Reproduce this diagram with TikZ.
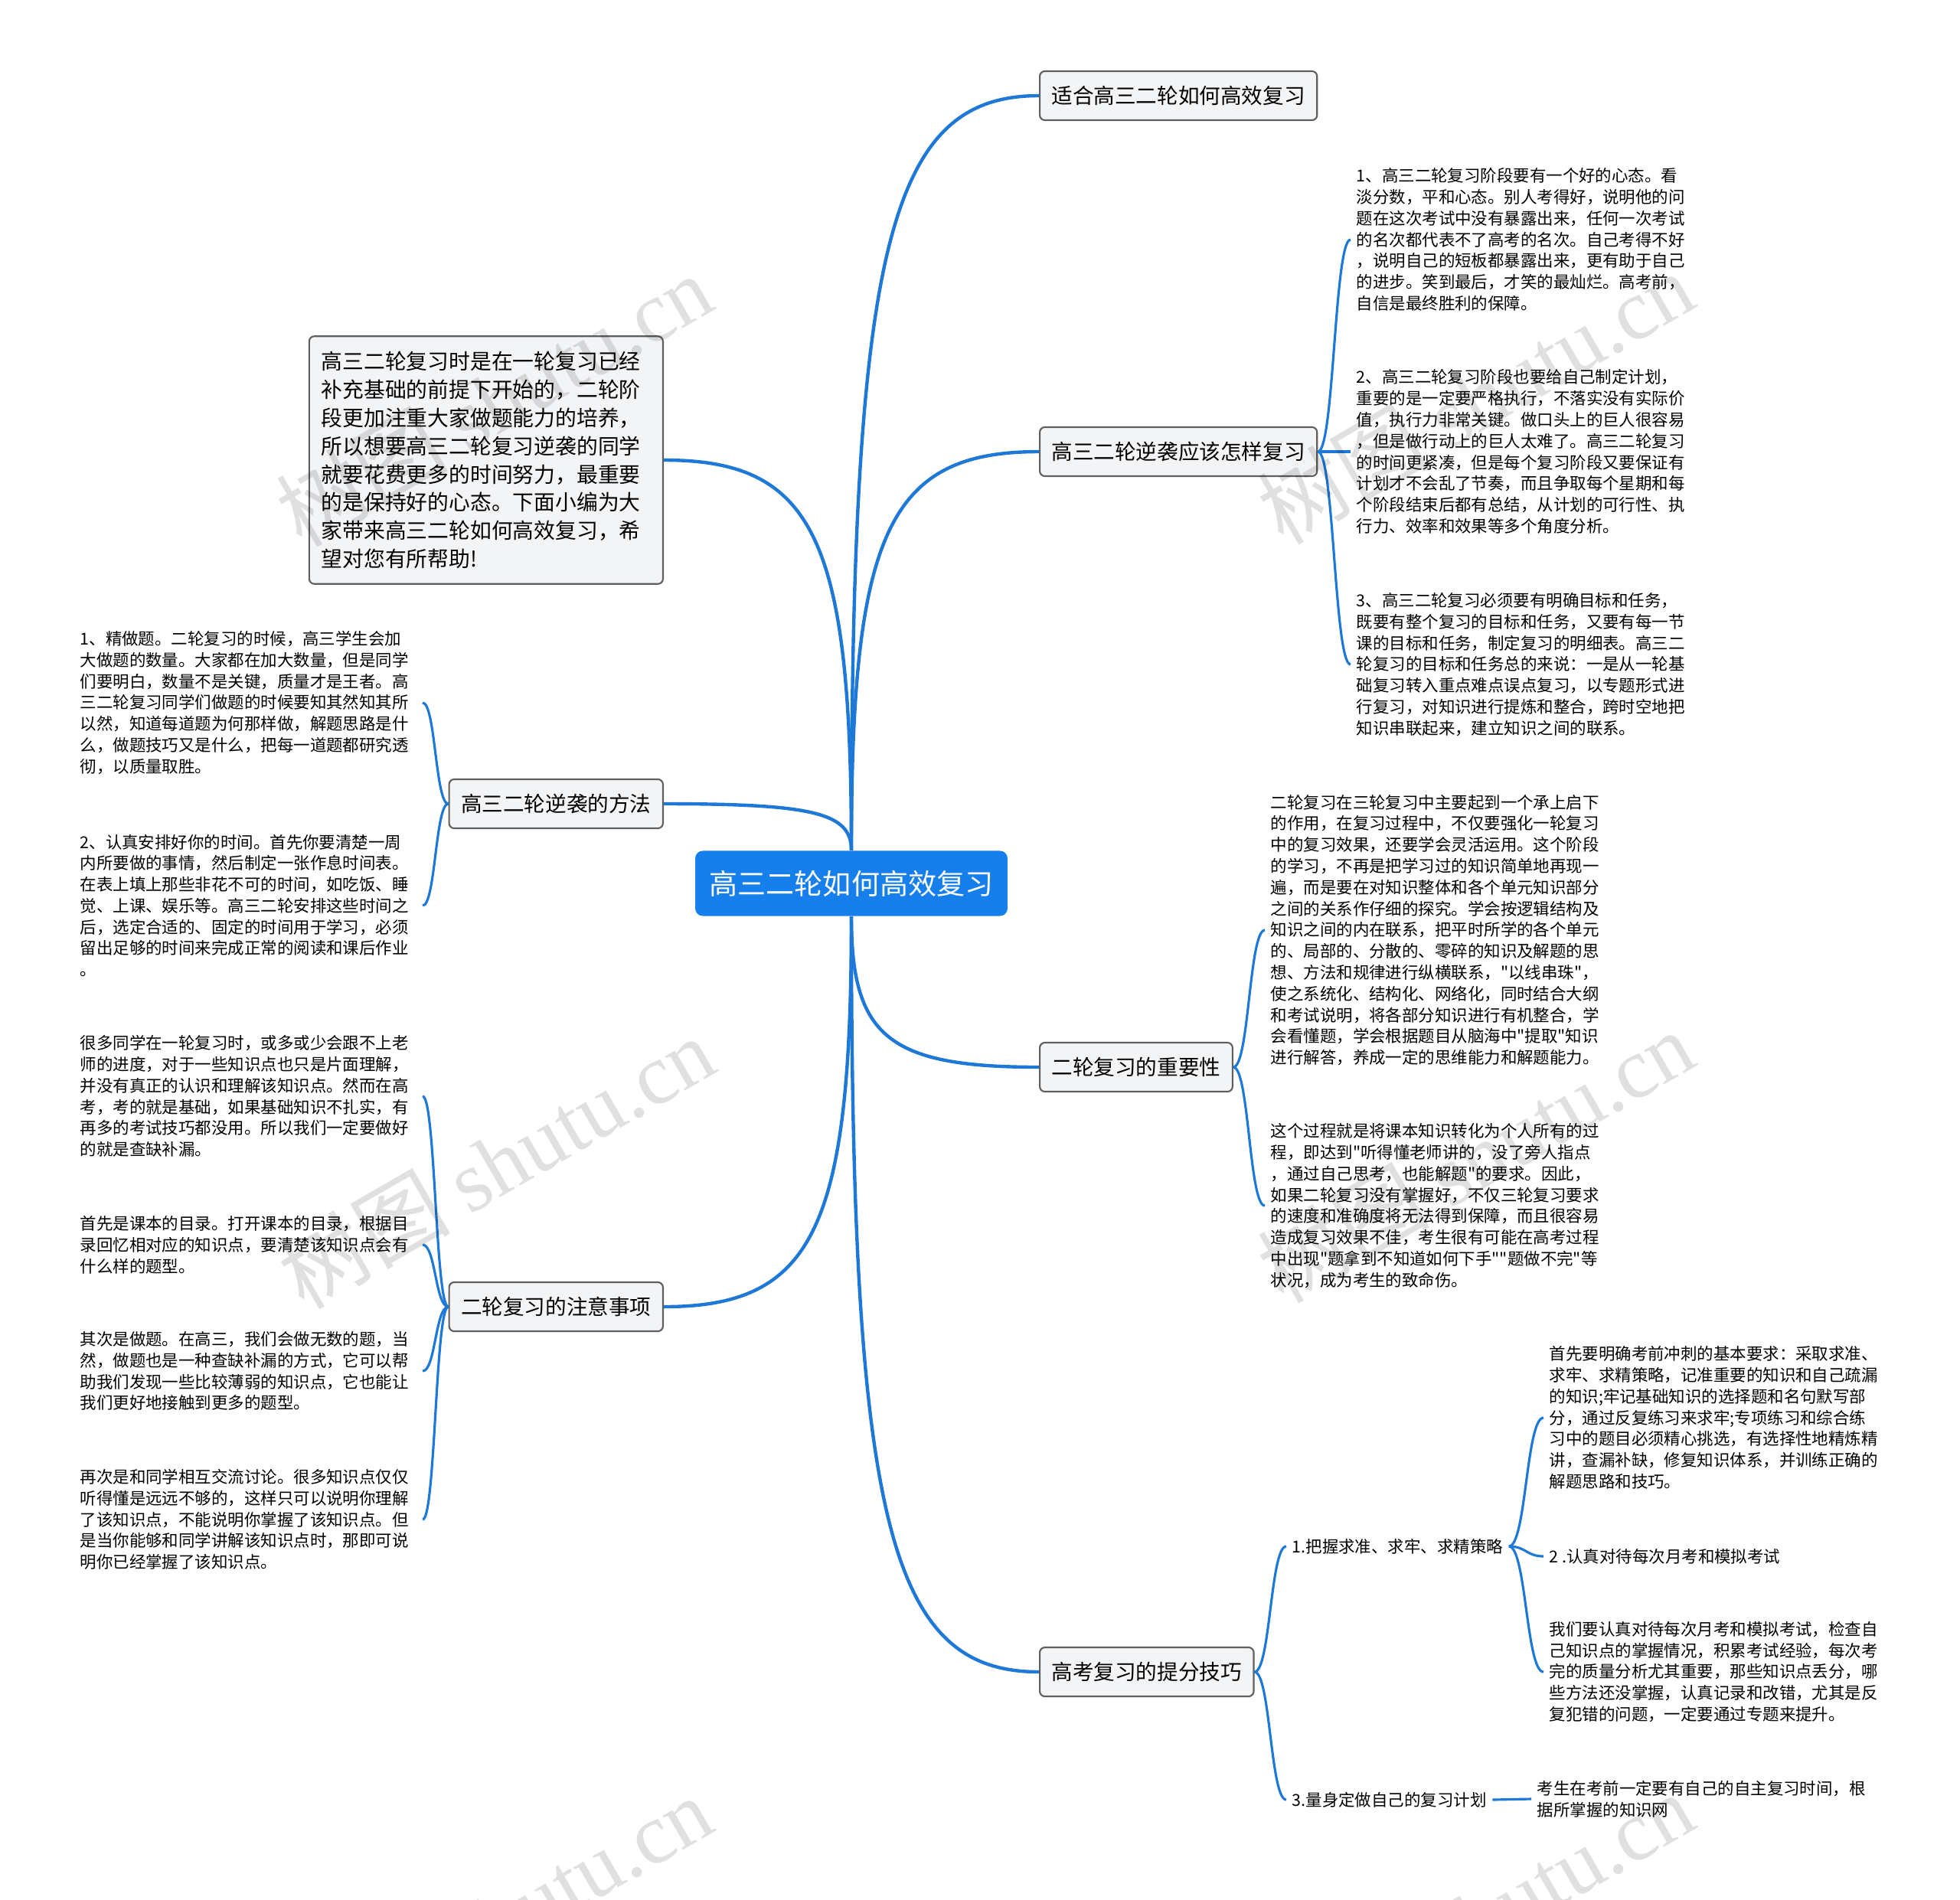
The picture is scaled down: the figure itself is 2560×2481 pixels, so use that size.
\documentclass[tikz,border=0pt]{standalone}
\usepackage{fontspec}
\setmainfont{Noto Sans CJK SC}[Ligatures=TeXOff]
\newfontfamily\markfont{Liberation Serif}
\usetikzlibrary{calc,positioning}
\definecolor{lineblue}{RGB}{30,120,215}
\definecolor{rootblue}{RGB}{22,127,235}
\definecolor{boxfill}{RGB}{243,244,246}
\definecolor{boxline}{RGB}{95,95,95}
\tikzset{
  rootbox/.style={fill=rootblue, text=white, rounded corners=2.8pt, minimum width=116pt, minimum height=24.2pt, font=\fontsize{10.55}{12}\selectfont},
  topic/.style={draw=boxline, fill=boxfill, line width=0.6pt, rounded corners=1.9pt, minimum height=18.2pt, inner xsep=4.4pt, font=\fontsize{7.85}{9}\selectfont},
  introbox/.style={topic, text width=122.3pt, inner xsep=4.55pt, minimum height=92pt, align=left, font=\fontsize{7.9}{10.5}\selectfont},
  notetext/.style={inner xsep=2pt, inner ysep=0pt, text width=125pt, align=left, font=\fontsize{6.1}{7.9}\selectfont},
  leaf/.style={inner xsep=2pt, inner ysep=1pt, font=\fontsize{6.1}{7.9}\selectfont},
  branch/.style={draw=lineblue, line width=1.25pt},
  twig/.style={draw=lineblue, line width=0.9pt},
  wmark/.style={text=black, opacity=0.12, rotate=30, font=\fontsize{32}{34}\selectfont},
  vcurve/.style={to path={.. controls ($(\tikztostart)!#1!(\tikztostart |- \tikztotarget)$) and ($(\tikztotarget)!#1!(\tikztostart |- \tikztotarget)$) .. (\tikztotarget)}},
  vcurve/.default=0.8,
  hcurve/.style={to path={.. controls ($(\tikztostart)!0.5!(\tikztotarget |- \tikztostart)$) and ($(\tikztotarget)!0.5!(\tikztostart |- \tikztotarget)$) .. (\tikztotarget)}}
}
\begin{document}
\begin{tikzpicture}[x=0.01cm, y=-0.01cm]
    \useasboundingbox (0,0) rectangle (2560,2481);
    % Root
    \node [rootbox] (root) at (1112,1154) {高三二轮如何高效复习};

    % Main topics
    \node [topic, anchor=west] (fit) at (1357,125) {适合高三二轮如何高效复习};
    \node [topic, anchor=west] (nixi) at (1357,590) {高三二轮逆袭应该怎样复习};
    \node [topic, anchor=west] (zhongyao) at (1357,1394) {二轮复习的重要性};
    \node [topic, anchor=west] (tifen) at (1357,2184) {高考复习的提分技巧};
    \node [introbox, anchor=east] (intro) at (867,601) {高三二轮复习时是在一轮复习已经\\补充基础的前提下开始的，二轮阶\\段更加注重大家做题能力的培养，\\所以想要高三二轮复习逆袭的同学\\就要花费更多的时间努力，最重要\\的是保持好的心态。下面小编为大\\家带来高三二轮如何高效复习，希\\望对您有所帮助!};
    \node [topic, anchor=east] (fangfa) at (867,1050) {高三二轮逆袭的方法};
    \node [topic, anchor=east] (zhuyi) at (867,1707) {二轮复习的注意事项};

    % Notes: nixi
    \node [notetext, anchor=west] (nixiA) at (1764,313) {1、高三二轮复习阶段要有一个好的心态。看\\淡分数，平和心态。别人考得好，说明他的问\\题在这次考试中没有暴露出来，任何一次考试\\的名次都代表不了高考的名次。自己考得不好\\，说明自己的短板都暴露出来，更有助于自己\\的进步。笑到最后，才笑的最灿烂。高考前，\\自信是最终胜利的保障。};
    \node [notetext, anchor=west] (nixiB) at (1764,590) {2、高三二轮复习阶段也要给自己制定计划，\\重要的是一定要严格执行，不落实没有实际价\\值，执行力非常关键。做口头上的巨人很容易\\，但是做行动上的巨人太难了。高三二轮复习\\的时间更紧凑，但是每个复习阶段又要保证有\\计划才不会乱了节奏，而且争取每个星期和每\\个阶段结束后都有总结，从计划的可行性、执\\行力、效率和效果等多个角度分析。};
    \node [notetext, anchor=west] (nixiC) at (1764,868) {3、高三二轮复习必须要有明确目标和任务，\\既要有整个复习的目标和任务，又要有每一节\\课的目标和任务，制定复习的明细表。高三二\\轮复习的目标和任务总的来说：一是从一轮基\\础复习转入重点难点误点复习，以专题形式进\\行复习，对知识进行提炼和整合，跨时空地把\\知识串联起来，建立知识之间的联系。};

    % Notes: fangfa
    \node [notetext, anchor=west] (fangfaA) at (97,918) {1、精做题。二轮复习的时候，高三学生会加\\大做题的数量。大家都在加大数量，但是同学\\们要明白，数量不是关键，质量才是王者。高\\三二轮复习同学们做题的时候要知其然知其所\\以然，知道每道题为何那样做，解题思路是什\\么，做题技巧又是什么，把每一道题都研究透\\彻，以质量取胜。};
    \node [notetext, anchor=west] (fangfaB) at (97,1183) {2、认真安排好你的时间。首先你要清楚一周\\内所要做的事情，然后制定一张作息时间表。\\在表上填上那些非花不可的时间，如吃饭、睡\\觉、上课、娱乐等。高三二轮安排这些时间之\\后，选定合适的、固定的时间用于学习，必须\\留出足够的时间来完成正常的阅读和课后作业\\。};

    % Notes: zhuyi
    \node [notetext, anchor=west] (zhuyiA) at (97,1432) {很多同学在一轮复习时，或多或少会跟不上老\\师的进度，对于一些知识点也只是片面理解，\\并没有真正的认识和理解该知识点。然而在高\\考，考的就是基础，如果基础知识不扎实，有\\再多的考试技巧都没用。所以我们一定要做好\\的就是查缺补漏。};
    \node [notetext, anchor=west] (zhuyiB) at (97,1626) {首先是课本的目录。打开课本的目录，根据目\\录回忆相对应的知识点，要清楚该知识点会有\\什么样的题型。};
    \node [notetext, anchor=west] (zhuyiC) at (97,1791) {其次是做题。在高三，我们会做无数的题，当\\然，做题也是一种查缺补漏的方式，它可以帮\\助我们发现一些比较薄弱的知识点，它也能让\\我们更好地接触到更多的题型。};
    \node [notetext, anchor=west] (zhuyiD) at (97,1985) {再次是和同学相互交流讨论。很多知识点仅仅\\听得懂是远远不够的，这样只可以说明你理解\\了该知识点，不能说明你掌握了该知识点。但\\是当你能够和同学讲解该知识点时，那即可说\\明你已经掌握了该知识点。};

    % Notes: zhongyao
    \node [notetext, anchor=west] (zhongyaoA) at (1652,1215) {二轮复习在三轮复习中主要起到一个承上启下\\的作用，在复习过程中，不仅要强化一轮复习\\中的复习效果，还要学会灵活运用。这个阶段\\的学习，不再是把学习过的知识简单地再现一\\遍，而是要在对知识整体和各个单元知识部分\\之间的关系作仔细的探究。学会按逻辑结构及\\知识之间的内在联系，把平时所学的各个单元\\的、局部的、分散的、零碎的知识及解题的思\\想、方法和规律进行纵横联系，"以线串珠"，\\使之系统化、结构化、网络化，同时结合大纲\\和考试说明，将各部分知识进行有机整合，学\\会看懂题，学会根据题目从脑海中"提取"知识\\进行解答，养成一定的思维能力和解题能力。};
    \node [notetext, anchor=west] (zhongyaoB) at (1652,1575) {这个过程就是将课本知识转化为个人所有的过\\程，即达到"听得懂老师讲的，没了旁人指点\\，通过自己思考，也能解题"的要求。因此，\\如果二轮复习没有掌握好，不仅三轮复习要求\\的速度和准确度将无法得到保障，而且很容易\\造成复习效果不佳，考生很有可能在高考过程\\中出现"题拿到不知道如何下手""题做不完"等\\状况，成为考生的致命伤。};

    % Sub topics: tifen
    \node [leaf, anchor=west] (tifenA) at (1680,2020) {1.把握求准、求牢、求精策略};
    \node [leaf, anchor=west] (tifenB) at (1680,2351) {3.量身定做自己的复习计划};
    \node [notetext, anchor=west] (tifenAa) at (2016,1852) {首先要明确考前冲刺的基本要求：采取求准、\\求牢、求精策略，记准重要的知识和自己疏漏\\的知识;牢记基础知识的选择题和名句默写部\\分，通过反复练习来求牢;专项练习和综合练\\习中的题目必须精心挑选，有选择性地精炼精\\讲，查漏补缺，修复知识体系，并训练正确的\\解题思路和技巧。};
    \node [leaf, anchor=west] (tifenAb) at (2016,2033) {2 .认真对待每次月考和模拟考试};
    \node [notetext, anchor=west] (tifenAc) at (2016,2184) {我们要认真对待每次月考和模拟考试，检查自\\己知识点的掌握情况，积累考试经验，每次考\\完的质量分析尤其重要，那些知识点丢分，哪\\些方法还没掌握，认真记录和改错，尤其是反\\复犯错的问题，一定要通过专题来提升。};
    \node [notetext, anchor=west] (tifenBa) at (2000,2350) {考生在考前一定要有自己的自主复习时间，根\\据所掌握的知识网};

    % Connections
    \draw [branch] (root.north) to[vcurve] (fit.west);
    \draw [branch] (root.north) to[vcurve] (nixi.west);
    \draw [branch] (root.north) to[vcurve] (intro.east);
    \draw [branch] (root.north) to[vcurve] (fangfa.east);
    \draw [branch] (root.south) to[vcurve] (zhongyao.west);
    \draw [branch] (root.south) to[vcurve] (tifen.west);
    \draw [branch] (root.south) to[vcurve] (zhuyi.east);

    \foreach \n in {nixiA,nixiB,nixiC}
        \draw [twig] (nixi.east) to[hcurve] (\n.west);
    \foreach \n in {fangfaA,fangfaB}
        \draw [twig] (fangfa.west) to[hcurve] (\n.east);
    \foreach \n in {zhuyiA,zhuyiB,zhuyiC,zhuyiD}
        \draw [twig] (zhuyi.west) to[hcurve] (\n.east);
    \foreach \n in {zhongyaoA,zhongyaoB}
        \draw [twig] (zhongyao.east) to[hcurve] (\n.west);
    \foreach \n in {tifenA,tifenB}
        \draw [twig] (tifen.east) to[hcurve] (\n.west);
    \foreach \n in {tifenAa,tifenAb,tifenAc}
        \draw [twig] (tifenA.east) to[hcurve] (\n.west);
    \draw [twig] (tifenB.east) -- (tifenBa.west);

    % Watermarks
    \node [wmark] (markA) at (645,522) {树图 {\markfont shutu.cn}};
    \node [wmark] (markB) at (1927,519) {树图 {\markfont shutu.cn}};
    \node [wmark] (markC) at (648,1518) {树图 {\markfont shutu.cn}};
    \node [wmark] (markD) at (1927,1510) {树图 {\markfont shutu.cn}};
    \node [wmark] (markE) at (645,2510) {树图 {\markfont shutu.cn}};
    \node [wmark] (markF) at (1927,2506) {树图 {\markfont shutu.cn}};
\end{tikzpicture}
\end{document}
